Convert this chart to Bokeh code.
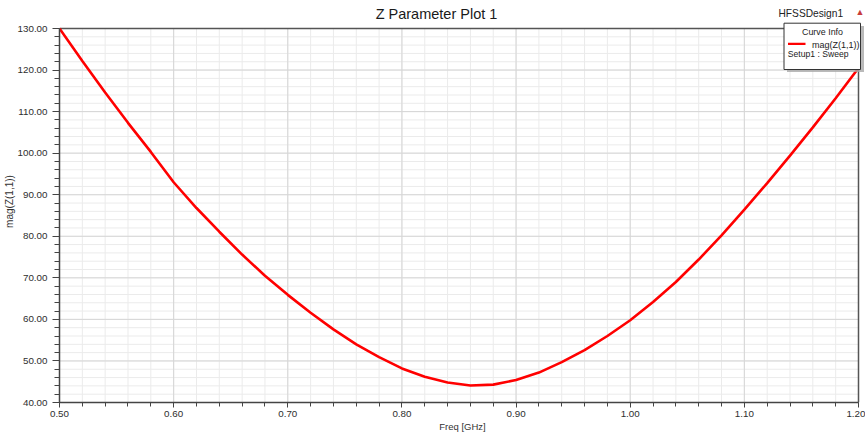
from bokeh.plotting import figure
from bokeh.models import (Range1d, FixedTicker, NumeralTickFormatter, Label,
                          BoxAnnotation)
from bokeh.embed import file_html
from bokeh.resources import INLINE

# Frequency sweep (GHz) and |Z11| (ohm)
freq_ghz = [0.50, 0.52, 0.54, 0.56, 0.58, 0.60, 0.62, 0.64, 0.66, 0.68,
            0.70, 0.72, 0.74, 0.76, 0.78, 0.80, 0.82, 0.84, 0.86, 0.88,
            0.90, 0.92, 0.94, 0.96, 0.98, 1.00, 1.02, 1.04, 1.06, 1.08,
            1.10, 1.12, 1.14, 1.16, 1.18, 1.20]
mag_z11 = [130.0, 122.2, 114.6, 107.3, 100.3, 93.0, 86.8, 81.1, 75.6, 70.5,
           65.9, 61.6, 57.6, 54.0, 50.9, 48.2, 46.2, 44.8, 44.1, 44.3,
           45.4, 47.2, 49.7, 52.6, 56.0, 59.8, 64.2, 69.0, 74.4, 80.2,
           86.4, 92.8, 99.4, 106.2, 113.2, 120.5]

# Axis ticks
x_major = [0.5, 0.6, 0.7, 0.8, 0.9, 1.0, 1.1, 1.2]
x_minor = [round(0.5 + 0.02 * i, 2) for i in range(36)]
y_major = [40, 50, 60, 70, 80, 90, 100, 110, 120, 130]
y_minor = list(range(40, 131, 2))

FONT = "Liberation Sans"
W, H = 865, 439
LEFT, BOTTOM = 59, 37          # side panels holding the axes
PLOT_TOP, PLOT_RIGHT = 28, 858  # page position of the plotting box edges

x0, x1 = x_major[0], x_major[-1]
y0, y1 = y_major[0], y_major[-1]

# The frame covers the header strip and right margin too, so the title,
# design name and curve-info box can be drawn inside it without clipping.
px_per_x = (PLOT_RIGHT - LEFT) / (x1 - x0)
px_per_y = ((H - BOTTOM) - PLOT_TOP) / (y1 - y0)
x_end = x1 + (W - PLOT_RIGHT) / px_per_x
y_end = y1 + PLOT_TOP / px_per_y

p = figure(width=W, height=H, output_backend="svg", toolbar_location=None,
           x_range=Range1d(x0, x_end), y_range=Range1d(y0, y_end),
           min_border_left=LEFT, min_border_right=0,
           min_border_top=0, min_border_bottom=BOTTOM,
           background_fill_color="white", border_fill_color="white")
p.outline_line_color = None
p.xgrid.visible = False
p.ygrid.visible = False

# Grid lines limited to the plotting box (minor first, then major)
p.segment(x0=x_minor, y0=[y0] * len(x_minor), x1=x_minor, y1=[y1] * len(x_minor),
          line_color="#ebebeb", line_width=1)
p.segment(x0=[x0] * len(y_minor), y0=y_minor, x1=[x1] * len(y_minor), y1=y_minor,
          line_color="#ebebeb", line_width=1)
p.segment(x0=x_major, y0=[y0] * len(x_major), x1=x_major, y1=[y1] * len(x_major),
          line_color="#d6d6d6", line_width=1)
p.segment(x0=[x0] * len(y_major), y0=y_major, x1=[x1] * len(y_major), y1=y_major,
          line_color="#d6d6d6", line_width=1)

# Axes
p.xaxis.ticker = FixedTicker(ticks=x_major, minor_ticks=x_minor)
p.yaxis.ticker = FixedTicker(ticks=y_major, minor_ticks=y_minor)
p.xaxis.bounds = (x0, x1)
p.yaxis.bounds = (y0, y1)
p.xaxis.formatter = NumeralTickFormatter(format="0.00")
p.yaxis.formatter = NumeralTickFormatter(format="0.00")
for ax in (p.xaxis, p.yaxis):
    ax.axis_line_color = "#444444"
    ax.axis_line_width = 1.5
    ax.major_tick_line_color = "#444444"
    ax.minor_tick_line_color = "#444444"
    ax.major_tick_in = 0
    ax.minor_tick_in = 0
    ax.major_label_text_font = FONT
    ax.major_label_text_font_size = "9.8px"
    ax.major_label_text_color = "#2e2e2e"
    ax.axis_label_text_font = FONT
    ax.axis_label_text_font_style = "normal"
    ax.axis_label_text_color = "#333333"

p.xaxis.major_tick_out = 5
p.xaxis.minor_tick_out = 4
p.xaxis.major_label_standoff = 3
p.xaxis.axis_label = "Freq [GHz]"
p.xaxis.axis_label_text_font_size = "9.5px"
p.xaxis.axis_label_standoff = 1

p.yaxis.major_tick_out = 7
p.yaxis.minor_tick_out = 5
p.yaxis.major_label_standoff = 5
p.yaxis.axis_label = "mag(Z(1,1))"
p.yaxis.axis_label_text_font_size = "10px"
p.yaxis.axis_label_standoff = 0

# Top and right edges of the plotting box
p.segment(x0=[x0, x1], y0=[y1, y0], x1=[x1, x1], y1=[y1, y1],
          line_color="#555555", line_width=1.5)

# Curve
p.line(freq_ghz, mag_z11, line_color="#ff0000", line_width=2.6)


def sx(X):
    # page x -> frame-relative screen x
    return X - LEFT


def sy(Y):
    # page y -> frame-relative screen y (measured up from frame bottom)
    return (H - BOTTOM) - Y


def text(x, y, s, size, align="left", color="#222222"):
    p.add_layout(Label(x=sx(x), y=sy(y), x_units="screen", y_units="screen",
                       text=s, text_font=FONT, text_font_size=size,
                       text_align=align, text_baseline="middle",
                       text_color=color))


def box(left, right, top, bottom, **kw):
    p.add_layout(BoxAnnotation(left=sx(left), right=sx(right),
                               top=sy(top), bottom=sy(bottom),
                               left_units="screen", right_units="screen",
                               top_units="screen", bottom_units="screen", **kw))


# Title and header
text(436, 13, "Z Parameter Plot 1", "14.5px", align="center", color="#1a1a1a")
text(778, 13, "HFSSDesign1", "10.2px", color="#222222")
text(859.5, 11, "\u25b2", "9px", align="center", color="#c83c3c")

# Curve info box (with drop shadow)
box(786.5, 863.5, 25.5, 71.5, fill_color="#a9a9a9", fill_alpha=0.8, line_alpha=0)
box(783.5, 860, 22.7, 69, fill_color="white", fill_alpha=1.0,
    line_color="#333333", line_width=1, line_alpha=1.0)
box(787.5, 805, 42.3, 44.5, fill_color="#ff0000", fill_alpha=1.0, line_alpha=0)
text(822, 31, "Curve Info", "8.9px", align="center")
text(811.5, 44, "mag(Z(1,1))", "9px")
text(787.3, 53.5, "Setup1 : Sweep", "8.6px")

open("out.html", "w").write(file_html(p, INLINE))
